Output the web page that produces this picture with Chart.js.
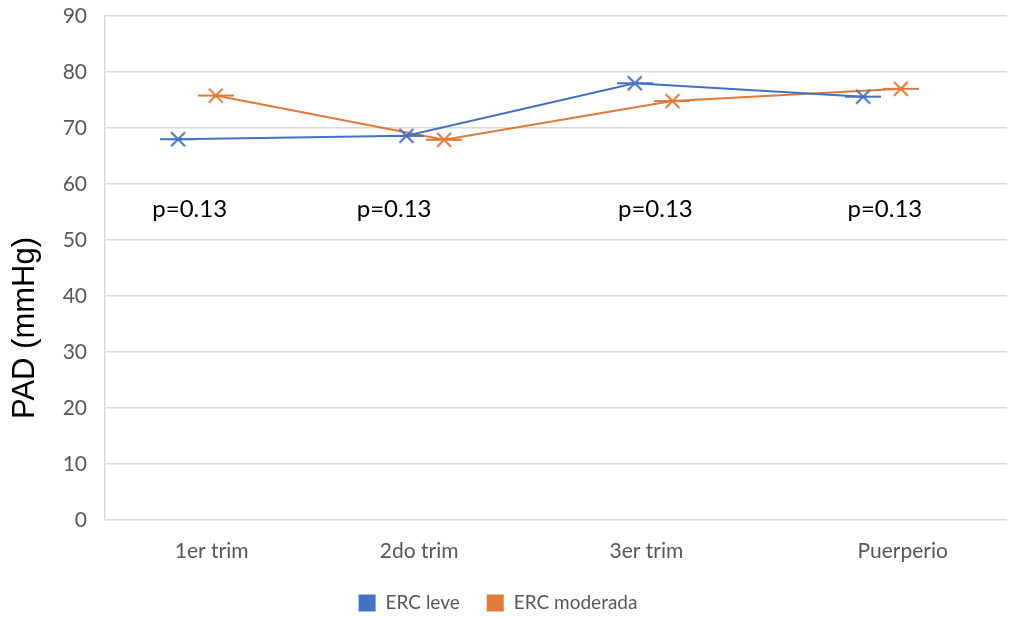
<!DOCTYPE html>
<html lang="es">

<head>
    <meta charset="UTF-8">
    <title>PAD (mmHg)</title>
    <style>
        html, body { margin: 0; padding: 0; background: #fff; }
        #wrap { width: 1013px; height: 617px; }
    </style>
</head>

<body>
    <div id="wrap"><canvas id="ctx"></canvas></div>

    <script src="https://cdn.jsdelivr.net/npm/chart.js"></script>
    <script>
        // Data
        const categories = ['1er trim', '2do trim', '3er trim', 'Puerperio'];
        const ercLeve = [68.0, 68.6, 78.0, 75.6];
        const ercModerada = [75.8, 67.9, 74.8, 77.0];
        const pLabels = ['p=0.13', 'p=0.13', 'p=0.13', 'p=0.13'];
        const yTitle = 'PAD (mmHg)';

        // layout (category index units)
        const leveOffset = 0.32;
        const moderadaOffset = 0.485;
        const tickOffsets = [0.467, 0.376, 0.371, 0.493];
        const pOffsets = [0.371, 0.266, 0.41, 0.415];
        const pLevel = 55.5;

        const BLUE = '#4472C4';
        const ORANGE = '#E0793A';
        const FONT = 'Lato, "Open Sans", sans-serif';

        // Excel style marker: X with a horizontal bar
        function marker(color) {
            const c = document.createElement('canvas');
            c.width = 36; c.height = 18;
            const g = c.getContext('2d');
            g.strokeStyle = color;
            g.lineWidth = 2;
            g.beginPath();
            g.moveTo(0, 9); g.lineTo(36, 9);
            g.moveTo(11, 2); g.lineTo(25, 16);
            g.moveTo(25, 2); g.lineTo(11, 16);
            g.stroke();
            return c;
        }

        const extraText = {
            id: 'extraText',
            afterDatasetsDraw(chart) {
                const { ctx, scales: { x, y } } = chart;
                ctx.save();
                ctx.fillStyle = '#000';
                ctx.font = '24px ' + FONT;
                ctx.textAlign = 'center';
                ctx.textBaseline = 'middle';
                pLabels.forEach((t, i) => {
                    ctx.fillText(t, x.getPixelForValue(i + pOffsets[i]), y.getPixelForValue(pLevel));
                });
                // axis title, sits a bit below the middle like in the original
                ctx.translate(25, 328);
                ctx.rotate(-Math.PI / 2);
                ctx.font = '31px "Liberation Sans", Arial, sans-serif';
                ctx.fillText(yTitle, 0, 0);
                ctx.restore();
            },
            afterDraw(chart) {
                // legend under the axis, boxes + names
                const ctx = chart.ctx;
                const sets = chart.data.datasets;
                ctx.save();
                ctx.font = '19px ' + FONT;
                ctx.textBaseline = 'middle';
                const box = 17, gap = 10, between = 27;
                let total = 0;
                sets.forEach((ds, i) => {
                    total += box + gap + ctx.measureText(ds.label).width + (i ? 0 : between);
                });
                let xx = 498 - total / 2;
                const yy = 603;
                sets.forEach((ds) => {
                    ctx.fillStyle = ds.borderColor;
                    ctx.fillRect(xx, yy - box / 2, box, box);
                    xx += box + gap;
                    ctx.fillStyle = '#595959';
                    ctx.fillText(ds.label, xx, yy);
                    xx += ctx.measureText(ds.label).width + between;
                });
                ctx.restore();
            }
        };

        let data = {
            datasets: [
                {
                    label: 'ERC leve',
                    data: ercLeve.map((v, i) => ({ x: i + leveOffset, y: v })),
                    borderColor: BLUE,
                    backgroundColor: BLUE,
                    borderWidth: 2,
                    pointStyle: marker(BLUE),
                    tension: 0
                },
                {
                    label: 'ERC moderada',
                    data: ercModerada.map((v, i) => ({ x: i + moderadaOffset, y: v })),
                    borderColor: ORANGE,
                    backgroundColor: ORANGE,
                    borderWidth: 2,
                    pointStyle: marker(ORANGE),
                    tension: 0
                }
            ]
        };

        let options = {
            responsive: true,
            maintainAspectRatio: false,
            animation: false,
            layout: { padding: { top: 16, right: 3, bottom: 27, left: 0 } },
            scales: {
                x: {
                    type: 'linear',
                    min: 0,
                    max: 3.95,
                    grid: { display: false },
                    border: { display: false },
                    afterBuildTicks: (scale) => {
                        scale.ticks = categories.map((c, i) => ({ value: i + tickOffsets[i] }));
                    },
                    afterFit: (scale) => {
                        scale.height = 70;
                        scale.paddingLeft = 0;
                        scale.paddingRight = 0;
                    },
                    ticks: {
                        color: '#595959',
                        font: { family: FONT, size: 21 },
                        padding: 11,
                        maxRotation: 0,
                        autoSkip: false,
                        callback: (v, i) => categories[i]
                    }
                },
                y: {
                    min: 0,
                    max: 90,
                    grid: { color: '#d9d9d9', lineWidth: 1.5, drawTicks: false },
                    border: { display: true, color: '#d9d9d9', width: 1.5 },
                    ticks: {
                        stepSize: 10,
                        color: '#595959',
                        font: { family: FONT, size: 21 },
                        padding: 18
                    },
                    afterFit: (scale) => {
                        scale.width = 105;
                        scale.paddingTop = 0;
                        scale.paddingBottom = 0;
                    }
                }
            },
            plugins: {
                legend: { display: false },
                tooltip: { enabled: false }
            }
        };

        let myChart = new Chart(document.getElementById('ctx'), {
            type: 'line',
            data: data,
            options: options,
            plugins: [extraText]
        });
    </script>
</body>

</html>
